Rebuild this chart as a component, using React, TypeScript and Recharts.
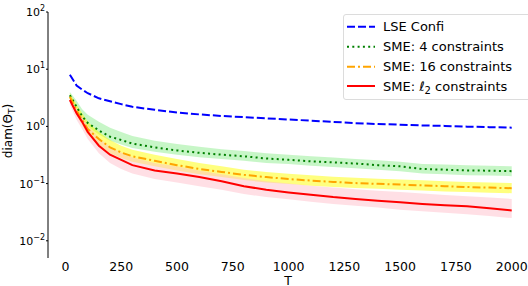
import { Area, ComposedChart, Legend, Line, XAxis, YAxis } from "recharts";

const FONT = "DejaVu Sans, sans-serif";

const T = [20, 50, 75, 100, 150, 200, 250, 300, 400, 500, 600, 700, 800, 900, 1000, 1100, 1200, 1300, 1400, 1500, 1600, 1700, 1800, 1900, 2000];

const lse = [8.0, 5.2, 4.4, 3.8, 3.1, 2.75, 2.45, 2.2, 1.95, 1.75, 1.62, 1.52, 1.45, 1.38, 1.32, 1.26, 1.2, 1.14, 1.1, 1.07, 1.04, 1.02, 0.99, 0.97, 0.95];

const sme4 = [3.5, 2.2, 1.5, 1.15, 0.85, 0.66, 0.58, 0.5, 0.43, 0.38, 0.345, 0.32, 0.3, 0.275, 0.26, 0.245, 0.235, 0.224, 0.21, 0.2, 0.18, 0.175, 0.17, 0.168, 0.165];
const sme4High = [4.0, 2.8, 2.0, 1.6, 1.2, 0.95, 0.8, 0.68, 0.56, 0.49, 0.44, 0.4, 0.37, 0.34, 0.32, 0.3, 0.285, 0.27, 0.255, 0.24, 0.22, 0.215, 0.21, 0.205, 0.2];
const sme4Low = [3.0, 1.9, 1.3, 1.0, 0.72, 0.56, 0.48, 0.42, 0.36, 0.32, 0.29, 0.27, 0.25, 0.23, 0.22, 0.205, 0.195, 0.185, 0.175, 0.165, 0.15, 0.145, 0.14, 0.138, 0.135];

const sme16 = [3.3, 1.9, 1.3, 0.9, 0.6, 0.43, 0.35, 0.3, 0.25, 0.21, 0.18, 0.16, 0.142, 0.13, 0.12, 0.113, 0.107, 0.102, 0.099, 0.096, 0.093, 0.09, 0.087, 0.085, 0.083];
const sme16High = [3.8, 2.4, 1.7, 1.2, 0.8, 0.58, 0.46, 0.39, 0.32, 0.27, 0.23, 0.2, 0.175, 0.16, 0.148, 0.14, 0.132, 0.126, 0.122, 0.118, 0.114, 0.11, 0.107, 0.104, 0.102];
const sme16Low = [2.8, 1.6, 1.05, 0.72, 0.47, 0.34, 0.28, 0.24, 0.2, 0.17, 0.145, 0.13, 0.115, 0.105, 0.098, 0.092, 0.087, 0.084, 0.081, 0.078, 0.076, 0.073, 0.071, 0.069, 0.068];

const smeL2 = [2.9, 1.7, 1.2, 0.8, 0.46, 0.32, 0.26, 0.21, 0.17, 0.15, 0.13, 0.11, 0.09, 0.078, 0.07, 0.064, 0.058, 0.054, 0.05, 0.047, 0.044, 0.042, 0.04, 0.037, 0.034];
const smeL2High = [3.4, 2.1, 1.5, 1.05, 0.62, 0.44, 0.35, 0.29, 0.23, 0.2, 0.17, 0.145, 0.125, 0.11, 0.1, 0.092, 0.085, 0.08, 0.075, 0.071, 0.067, 0.063, 0.06, 0.057, 0.054];
const smeL2Low = [2.4, 1.3, 0.9, 0.6, 0.34, 0.23, 0.18, 0.15, 0.12, 0.105, 0.09, 0.078, 0.066, 0.058, 0.053, 0.048, 0.044, 0.041, 0.038, 0.035, 0.033, 0.031, 0.029, 0.027, 0.025];

const xTicks = [0, 250, 500, 750, 1000, 1250, 1500, 1750, 2000];
const yTicks = [0.01, 0.1, 1, 10, 100];

const data = T.map((t, i) => ({
  T: t,
  lse: lse[i],
  sme4: sme4[i],
  sme4Band: [sme4Low[i], sme4High[i]],
  sme16: sme16[i],
  sme16Band: [sme16Low[i], sme16High[i]],
  smeL2: smeL2[i],
  smeL2Band: [smeL2Low[i], smeL2High[i]],
}));

const entries = [
  { color: "#0000ff", dash: "8 3" },
  { color: "#008000", dash: "2 3.3" },
  { color: "#ffa500", dash: "8 3 2 3" },
  { color: "#ff0000", dash: undefined },
];

function YTick({ x, y, payload }: any) {
  const exp = Math.round(Math.log10(payload.value));
  return (
    <text x={x} y={y + 4} textAnchor="end" fontFamily={FONT} fontSize={11} fill="#000">
      <tspan>10</tspan>
      <tspan dy={-5} fontSize={8}>{exp < 0 ? `\u2212${-exp}` : String(exp)}</tspan>
    </text>
  );
}

function YLabel() {
  return (
    <text x={12} y={131} transform="rotate(-90 12 131)" textAnchor="middle" fontFamily={FONT} fontSize={12} fill="#000">
      diam(Θ<tspan dy={3} fontSize={9}>T</tspan><tspan dy={-3}>)</tspan>
    </text>
  );
}

function LegendBox() {
  const rowY = [11.7, 31.7, 51.7, 71];
  return (
    <div style={{ width: 200, height: 86, border: "1px solid #dcdcdc", borderRadius: 3, background: "rgba(255,255,255,0.8)", boxSizing: "border-box" }}>
      <svg width={198} height={84} style={{ display: "block" }}>
        {entries.map((e, i) => (
          <line key={i} x1={3} x2={31} y1={rowY[i]} y2={rowY[i]} stroke={e.color} strokeWidth={2} strokeDasharray={e.dash} />
        ))}
        <g fontFamily={FONT} fontSize={13} fill="#000">
          <text x={39} y={rowY[0] + 4.7}>LSE Confi</text>
          <text x={39} y={rowY[1] + 4.7}>SME: 4 constraints</text>
          <text x={39} y={rowY[2] + 4.7}>SME: 16 constraints</text>
          <text x={39} y={rowY[3] + 4.7}>
            SME: ℓ<tspan dy={3} fontSize={10}>2</tspan><tspan dy={-3}> constraints</tspan>
          </text>
        </g>
      </svg>
    </div>
  );
}

export default function App() {
  return (
    <div style={{ position: "absolute", left: 0, top: 0, width: 528, height: 286, overflow: "hidden", background: "#fff" }}>
      <ComposedChart width={528} height={286} data={data} margin={{ top: 12, right: 0, left: 8, bottom: 0 }}>
        <XAxis
          type="number"
          dataKey="T"
          domain={[-78, 2073]}
          ticks={xTicks}
          allowDataOverflow
          axisLine={false}
          tickLine={false}
          tickSize={0}
          tickMargin={4}
          height={28}
          tick={{ fontSize: 12.5, fill: "#000", fontFamily: FONT }}
          label={{ value: "T", position: "insideBottom", offset: 1.5, fontSize: 12.5, fill: "#000", fontFamily: FONT }}
        />
        <YAxis
          type="number"
          scale="log"
          domain={[0.005, 100]}
          ticks={yTicks}
          allowDataOverflow
          width={40}
          stroke="#000"
          tickSize={2}
          tickMargin={1}
          tick={<YTick />}
          label={() => <YLabel />}
        />
        <Area dataKey="sme4Band" type="linear" stroke="none" fill="#90ee90" fillOpacity={0.5} isAnimationActive={false} />
        <Area dataKey="sme16Band" type="linear" stroke="none" fill="#ffff00" fillOpacity={0.5} isAnimationActive={false} />
        <Area dataKey="smeL2Band" type="linear" stroke="none" fill="#ffc0cb" fillOpacity={0.5} isAnimationActive={false} />
        <Line dataKey="lse" type="linear" stroke="#0000ff" strokeWidth={2} strokeDasharray="8 3" dot={false} activeDot={false} isAnimationActive={false} />
        <Line dataKey="sme4" type="linear" stroke="#008000" strokeWidth={2} strokeDasharray="2 3.3" dot={false} activeDot={false} isAnimationActive={false} />
        <Line dataKey="sme16" type="linear" stroke="#ffa500" strokeWidth={2} strokeDasharray="8 3 2 3" dot={false} activeDot={false} isAnimationActive={false} />
        <Line dataKey="smeL2" type="linear" stroke="#ff0000" strokeWidth={2} dot={false} activeDot={false} isAnimationActive={false} />
        <Legend
          layout="vertical"
          align="center"
          verticalAlign="middle"
          content={() => <LegendBox />}
          wrapperStyle={{ position: "absolute", left: 343, top: 14, width: 200, height: 86 }}
        />
      </ComposedChart>
    </div>
  );
}
